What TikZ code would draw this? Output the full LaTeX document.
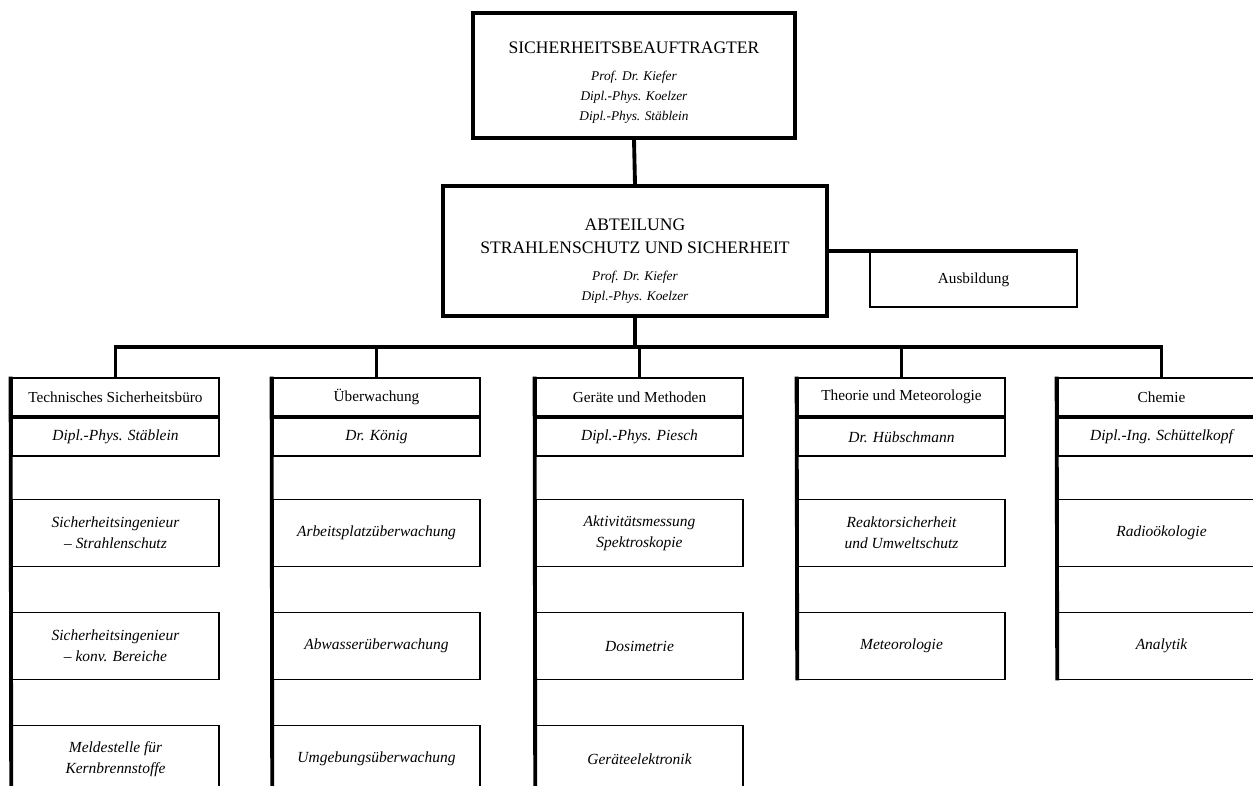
\documentclass[tikz,border=0pt]{standalone}
\usepackage{fontspec}
\setmainfont{Liberation Serif}
\usepackage{tikz}
\usetikzlibrary{positioning,calc}

\newcommand{\caps}[1]{{\fontsize{10}{11}\selectfont #1}}

\tikzset{
  conn/.style={line width=2.2pt},
  bigbox/.style={draw,line width=1.8pt,align=center,inner sep=0pt},
  hdbox/.style={draw,line width=1.6pt,minimum width=4.14cm,minimum height=0.76cm,inner sep=0pt,font=\fontsize{8.7}{10}\selectfont},
  nmbox/.style={draw,line width=0.9pt,minimum width=4.14cm,minimum height=0.76cm,inner sep=0pt,font=\fontsize{8.8}{10}\selectfont\itshape},
  unitbox/.style={draw,line width=0.9pt,minimum width=4.14cm,minimum height=1.34cm,inner sep=0pt,align=center,font=\fontsize{8.8}{12}\selectfont\itshape},
}

\begin{document}
\begin{tikzpicture}[x=0.02cm,y=-0.02cm]
  \useasboundingbox (0,0) rectangle (1253,786);

  \node[bigbox,minimum width=6.44cm,minimum height=2.5cm,font=\fontsize{7.6}{11.4}\selectfont] (sb) at (634,75.5)
    {\rule{0pt}{15pt}\caps{SICHERHEITSBEAUFTRAGTER}\\[4pt]
     \textit{Prof. Dr. Kiefer}\\ \textit{Dipl.-Phys. Koelzer}\\ \textit{Dipl.-Phys. Stäblein}};
  \node[bigbox,minimum width=7.68cm,minimum height=2.6cm,font=\fontsize{7.6}{11.4}\selectfont] (abt) at (635,251)
    {\rule{0pt}{18pt}\caps{ABTEILUNG}\\[1.5pt] \caps{STRAHLENSCHUTZ UND SICHERHEIT}\\[4pt]
     \textit{Prof. Dr. Kiefer}\\ \textit{Dipl.-Phys. Koelzer}};
  \node[draw,line width=0.9pt,minimum width=4.14cm,minimum height=1.1cm,font=\fontsize{8.7}{10}\selectfont] (ausb) at (973.5,279.5) {Ausbildung};

  \draw[conn] (sb.south) -- (abt.north);
  \draw[conn] (abt.east) -- (abt.east -| ausb.north east);

  \foreach \i/\x/\hd/\nm in {
      1/115.5/{Technisches Sicherheitsbüro}/{Dipl.-Phys. Stäblein},
      2/376.5/{Überwachung}/{Dr. König},
      3/639.5/{Geräte und Methoden}/{Dipl.-Phys. Piesch},
      4/901.5/{Theorie und Meteorologie}/{Dr. Hübschmann},
      5/1161.5/{Chemie}/{Dipl.-Ing. Schüttelkopf}} {
    \node[hdbox] (h\i) at (\x,397) {\hd};
    \node[nmbox,below=0pt of h\i] (p\i) {\nm};
  }

  \foreach \i/\r/\txt in {
      1/1/{Sicherheitsingenieur\\-- Strahlenschutz},
      1/2/{Sicherheitsingenieur\\-- konv. Bereiche},
      1/3/{Meldestelle für\\Kernbrennstoffe},
      2/1/{Arbeitsplatzüberwachung},
      2/2/{Abwasserüberwachung},
      2/3/{Umgebungsüberwachung},
      3/1/{Aktivitätsmessung\\Spektroskopie},
      3/2/{Dosimetrie},
      3/3/{Geräteelektronik},
      4/1/{Reaktorsicherheit\\und Umweltschutz},
      4/2/{Meteorologie},
      5/1/{Radioökologie},
      5/2/{Analytik}} {
    \node[unitbox] (c\i\r) at ($(h\i.center |- 0,533)+(0,{113*(\r-1)})$) {\txt};
  }

  \coordinate (bus) at (635,347);
  \draw[conn] (abt.south) -- (bus);
  \draw[conn] (h1.north) -- (h1.north |- bus) -- (h5.north |- bus) -- (h5.north);
  \foreach \i in {2,3,4}
    \draw[conn] (h\i.north) -- (h\i.north |- bus);

  \foreach \i in {1,2,3}
    \draw[conn] (h\i.north west) -- (c\i3.south west);
  \foreach \i in {4,5}
    \draw[conn] (h\i.north west) -- (c\i2.south west);
\end{tikzpicture}
\end{document}
